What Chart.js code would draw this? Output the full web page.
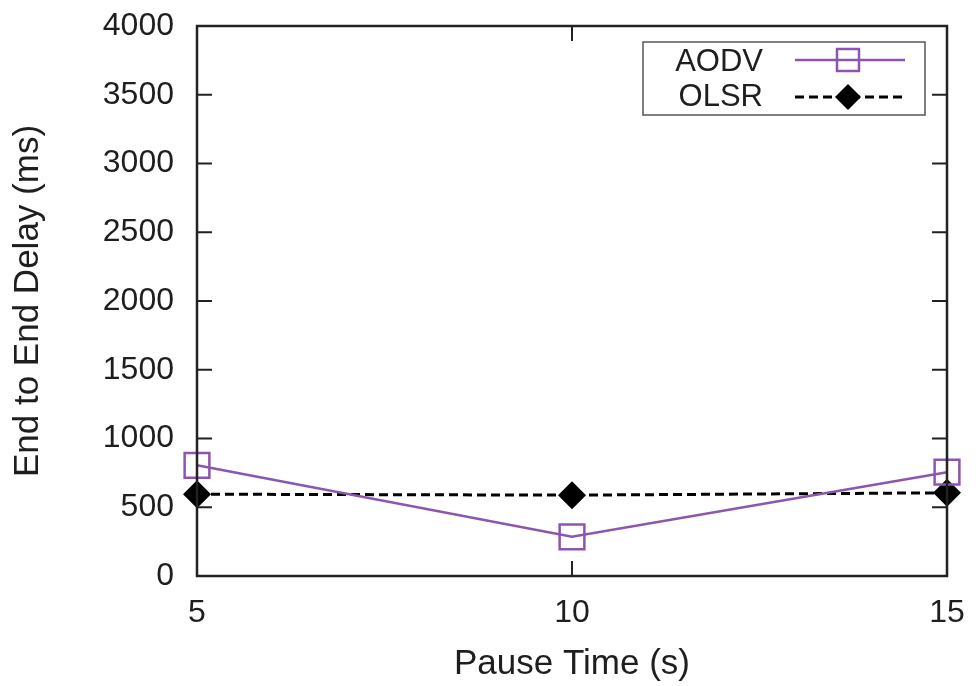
<!DOCTYPE html>
<html>
<head>
<meta charset="utf-8">
<script src="https://cdn.jsdelivr.net/npm/chart.js@4/dist/chart.umd.min.js"></script>
<style>
  html, body { margin: 0; padding: 0; background: #fff; }
  #wrap { width: 979px; height: 686px; }
</style>
</head>
<body>
<div id="wrap"><canvas id="c" width="979" height="686"></canvas></div>
<script>
const pauseTimes = [5, 10, 15];
const aodvDelay = [805, 285, 755];
const olsrDelay = [595, 588, 605];
const yTicks = [0, 500, 1000, 1500, 2000, 2500, 3000, 3500, 4000];
const xTicks = [5, 10, 15];
const seriesNames = ['AODV', 'OLSR'];

const FONT = "'Liberation Sans', Arial, Helvetica, sans-serif";
const AODV_COLOR = '#8c55ae';
const TEXT = '#1e1e1e';

const framePlugin = {
  id: 'frame',
  afterDatasetsDraw(chart) {
    const ctx = chart.ctx;
    const a = chart.chartArea;
    const xs = chart.scales.x, ys = chart.scales.y;
    const tl = 15;
    ctx.save();
    ctx.strokeStyle = '#222';
    ctx.lineWidth = 2.5;
    ctx.strokeRect(a.left, a.top, a.right - a.left, a.bottom - a.top);
    ctx.lineWidth = 2;
    ctx.beginPath();
    yTicks.forEach(v => {
      const y = ys.getPixelForValue(v);
      ctx.moveTo(a.left, y); ctx.lineTo(a.left + tl, y);
      ctx.moveTo(a.right, y); ctx.lineTo(a.right - tl, y);
    });
    xTicks.forEach(v => {
      const x = xs.getPixelForValue(v);
      ctx.moveTo(x, a.bottom); ctx.lineTo(x, a.bottom - tl);
      ctx.moveTo(x, a.top); ctx.lineTo(x, a.top + tl);
    });
    ctx.stroke();
    ctx.restore();
  }
};

const legendPlugin = {
  id: 'gpLegend',
  afterDraw(chart) {
    const ctx = chart.ctx;
    const bx = 643, by = 42, bw = 282, bh = 73;
    ctx.save();
    ctx.fillStyle = '#fff';
    ctx.fillRect(bx, by, bw, bh);
    ctx.strokeStyle = '#555';
    ctx.lineWidth = 1.5;
    ctx.strokeRect(bx, by, bw, bh);
    ctx.font = "31px " + FONT;
    ctx.fillStyle = TEXT;
    ctx.textAlign = 'right';
    ctx.textBaseline = 'middle';
    ctx.fillText(seriesNames[0], 763, 62);
    ctx.fillText(seriesNames[1], 763, 97);
    ctx.strokeStyle = AODV_COLOR;
    ctx.lineWidth = 2.5;
    ctx.beginPath(); ctx.moveTo(795, 60); ctx.lineTo(905, 60); ctx.stroke();
    ctx.strokeRect(848 - 11, 60 - 11, 22, 22);
    ctx.strokeStyle = '#000';
    ctx.lineWidth = 3;
    ctx.setLineDash([9, 5]);
    ctx.beginPath(); ctx.moveTo(795, 97); ctx.lineTo(905, 97); ctx.stroke();
    ctx.setLineDash([]);
    ctx.fillStyle = '#000';
    ctx.beginPath();
    ctx.moveTo(848 - 13, 97); ctx.lineTo(848, 97 - 13); ctx.lineTo(848 + 13, 97); ctx.lineTo(848, 97 + 13);
    ctx.closePath(); ctx.fill();
    ctx.restore();
  }
};

new Chart(document.getElementById('c'), {
  type: 'line',
  data: {
    datasets: [
      {
        label: seriesNames[0],
        data: pauseTimes.map((x, i) => ({ x: x, y: aodvDelay[i] })),
        borderColor: AODV_COLOR,
        borderWidth: 2.5,
        backgroundColor: 'rgba(0,0,0,0)',
        pointStyle: 'rect',
        pointRadius: 17.5,
        pointBorderWidth: 2.5,
        pointBorderColor: AODV_COLOR,
        pointBackgroundColor: 'rgba(0,0,0,0)',
        tension: 0,
        clip: false
      },
      {
        label: seriesNames[1],
        data: pauseTimes.map((x, i) => ({ x: x, y: olsrDelay[i] })),
        borderColor: '#000',
        borderWidth: 3,
        borderDash: [9, 5],
        backgroundColor: '#000',
        pointStyle: 'rectRot',
        pointRadius: 14,
        pointBorderWidth: 0,
        pointBackgroundColor: '#000',
        tension: 0,
        clip: false
      }
    ]
  },
  options: {
    responsive: false,
    animation: false,
    devicePixelRatio: 1,
    layout: { padding: { top: 26, right: 32, left: 0, bottom: 0 } },
    plugins: { legend: { display: false }, tooltip: { enabled: false } },
    scales: {
      x: {
        type: 'linear',
        min: 5, max: 15,
        afterBuildTicks(s) { s.ticks = xTicks.map(v => ({ value: v })); },
        afterFit(s) { s.height = 110; s.paddingLeft = 0; s.paddingRight = 0; },
        grid: { display: false, drawTicks: false },
        border: { display: false },
        ticks: { padding: 18, color: TEXT, font: { family: FONT, size: 32 }, callback: v => String(v) },
        title: { display: true, text: 'Pause Time (s)', color: TEXT, font: { family: FONT, size: 35 }, padding: { top: 0, bottom: 1 } }
      },
      y: {
        type: 'linear',
        min: 0, max: 4000,
        afterBuildTicks(s) { s.ticks = yTicks.map(v => ({ value: v })); },
        afterFit(s) { s.width = 197; s.paddingTop = 0; s.paddingBottom = 0; },
        grid: { display: false, drawTicks: false },
        border: { display: false },
        ticks: { padding: 23, color: TEXT, font: { family: FONT, size: 32 }, callback: v => String(v) },
        title: { display: true, text: 'End to End Delay (ms)', color: TEXT, font: { family: FONT, size: 35 }, padding: { top: 7, bottom: 0 } }
      }
    }
  },
  plugins: [framePlugin, legendPlugin]
});
</script>
</body>
</html>
